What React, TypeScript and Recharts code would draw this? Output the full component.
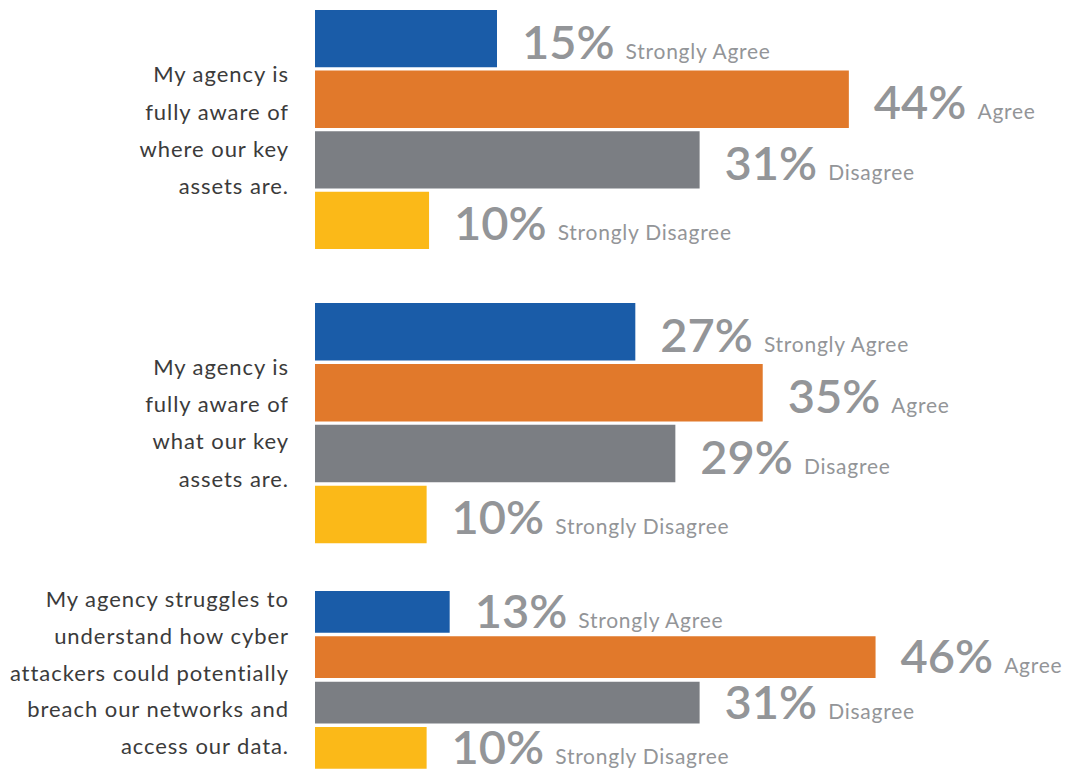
import { BarChart, Bar, XAxis, YAxis, Cell, LabelList } from "recharts"

// survey answers, same order for every question
const responses = ["Strongly Agree", "Agree", "Disagree", "Strongly Disagree"]
const colors = ["#1a5ca8", "#e1792b", "#7b7e83", "#fbb918"]

// question 1
const q1Lines = ["My agency is", "fully aware of", "where our key", "assets are."]
const q1Pct = [15, 44, 31, 10]
const q1Bars = [15, 44, 31.7, 9.4]

// question 2
const q2Lines = ["My agency is", "fully aware of", "what our key", "assets are."]
const q2Pct = [27, 35, 29, 10]
const q2Bars = [26.4, 36.9, 29.7, 9.2]

// question 3
const q3Lines = [
  "My agency struggles to",
  "understand how cyber",
  "attackers could potentially",
  "breach our networks and",
  "access our data.",
]
const q3Pct = [13, 46, 31, 10]
const q3Bars = [11.1, 46.2, 31.7, 9.2]

const FONT = "Lato, 'Open Sans', sans-serif"
const PAD = 20

interface GroupProps {
  lines: string[]
  pct: number[]
  bars: number[]
  top: number
  height: number
  barSize: number
  labelDy: number
  textTop: number
  lineGap: number
}

function Group({ lines, pct, bars, top, height, barSize, labelDy, textTop, lineGap }: GroupProps) {
  const data = responses.map((r, i) => ({ resp: r, value: bars[i], pct: pct[i] }))

  const renderLabel = (props: any) => {
    const { x, y, width, height: h, value } = props
    const i = responses.indexOf(value)
    return (
      <text
        x={Number(x) + Number(width) + 25}
        y={Number(y) + Number(h) / 2 + labelDy}
        fill="#939598"
        fontFamily={FONT}
      >
        <tspan fontSize={47} fontWeight={600}>{`${pct[i]}%`}</tspan>
        <tspan dx={11} fontSize={21} letterSpacing={0.75}>{responses[i]}</tspan>
      </text>
    )
  }

  return (
    <>
      <div style={{ position: "absolute", left: 0, top: top - PAD, width: 1080, height: height + 2 * PAD }}>
        <BarChart
          width={1080}
          height={height + 2 * PAD}
          data={data}
          layout="vertical"
          margin={{ top: PAD, right: 37, bottom: PAD, left: 315 }}
        >
          <XAxis type="number" domain={[0, 60]} allowDataOverflow hide />
          <YAxis type="category" dataKey="resp" hide />
          <Bar dataKey="value" barSize={barSize} isAnimationActive={false}>
            {data.map((d, i) => (
              <Cell key={d.resp} fill={colors[i]} />
            ))}
            <LabelList dataKey="resp" content={renderLabel} />
          </Bar>
        </BarChart>
      </div>
      <svg
        style={{ position: "absolute", left: 0, top: 0, overflow: "visible" }}
        width={300}
        height={1}
      >
        {lines.map((l, i) => (
          <text
            key={l}
            x={289}
            y={textTop + i * lineGap}
            textAnchor="end"
            fontFamily={FONT}
            fontSize={22}
            letterSpacing={0.95}
            fill="#3b3b3b"
          >
            {l}
          </text>
        ))}
      </svg>
    </>
  )
}

export default function App() {
  return (
    <div
      style={{
        position: "absolute",
        left: 0,
        top: 0,
        width: 1080,
        height: 773,
        background: "#fff",
        overflow: "hidden",
      }}
    >
      <Group lines={q1Lines} pct={q1Pct} bars={q1Bars} top={7.7} height={242.4} barSize={57.3} labelDy={20} textTop={82.3} lineGap={37.2} />
      <Group lines={q2Lines} pct={q2Pct} bars={q2Bars} top={300.7} height={243.6} barSize={57.5} labelDy={20} textTop={375} lineGap={37.2} />
      <Group lines={q3Lines} pct={q3Pct} bars={q3Bars} top={589.2} height={181.3} barSize={41.8} labelDy={16} textTop={607.3} lineGap={36.7} />
    </div>
  )
}
